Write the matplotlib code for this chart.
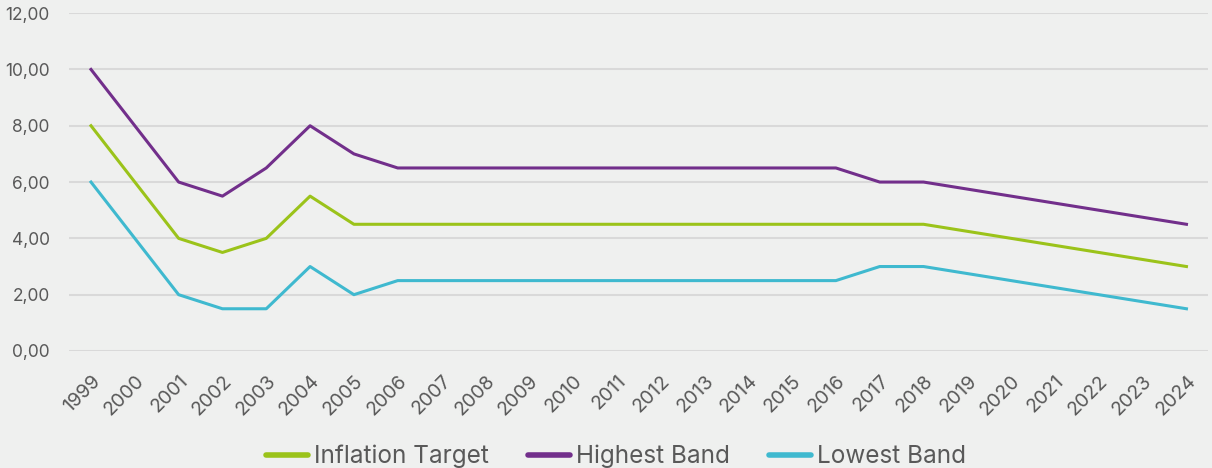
import matplotlib.pyplot as plt
from matplotlib.ticker import FuncFormatter

years = [str(y) for y in range(1999, 2025)]
inflation_target = [8.0, 6.0, 4.0, 3.5, 4.0, 5.5, 4.5, 4.5, 4.5, 4.5, 4.5, 4.5, 4.5,
                    4.5, 4.5, 4.5, 4.5, 4.5, 4.5, 4.5, 4.25, 4.0, 3.75, 3.5, 3.25, 3.0]
highest_band = [10.0, 8.0, 6.0, 5.5, 6.5, 8.0, 7.0, 6.5, 6.5, 6.5, 6.5, 6.5, 6.5,
                6.5, 6.5, 6.5, 6.5, 6.5, 6.0, 6.0, 5.75, 5.5, 5.25, 5.0, 4.75, 4.5]
lowest_band = [6.0, 4.0, 2.0, 1.5, 1.5, 3.0, 2.0, 2.5, 2.5, 2.5, 2.5, 2.5, 2.5,
               2.5, 2.5, 2.5, 2.5, 2.5, 3.0, 3.0, 2.75, 2.5, 2.25, 2.0, 1.75, 1.5]

bg = '#eff0ef'
txt = '#595959'
plt.rcParams['font.family'] = ['Inter', 'DejaVu Sans']

fig = plt.figure(figsize=(12.12, 4.68), dpi=100, facecolor=bg)
ax = fig.add_axes([0.057, 0.25, 0.94, 0.722])
ax.set_facecolor(bg)

x = range(len(years))
ax.plot(x, inflation_target, color='#9bc31a', lw=2.2, label='Inflation Target')
ax.plot(x, highest_band, color='#722f8b', lw=2.2, label='Highest Band')
ax.plot(x, lowest_band, color='#3fb9cf', lw=2.2, label='Lowest Band')

ax.set_xlim(-0.5, len(years) - 0.5)
ax.set_ylim(0, 12)
ax.set_yticks(range(0, 13, 2))
ax.yaxis.set_major_formatter(FuncFormatter(lambda v, p: f'{v:.2f}'.replace('.', ',')))
ax.set_xticks(list(x))
ax.set_xticklabels(years, rotation=45, ha='right', rotation_mode='anchor')
ax.tick_params(axis='both', length=0, colors=txt)
ax.tick_params(axis='x', pad=15, labelsize=14)
ax.tick_params(axis='y', pad=14, labelsize=12.5)
ax.grid(axis='y', color='#d9d9d9', lw=1.5)
ax.set_axisbelow(True)
for s in ax.spines.values():
    s.set_visible(False)

leg = ax.legend(loc='upper center', bbox_to_anchor=(0.48, -0.212), ncol=3, frameon=False,
                fontsize=17.5, handlelength=1.73, columnspacing=1.6, handletextpad=0.25)
for line in leg.get_lines():
    line.set_linewidth(4)
    line.set_solid_capstyle('round')
for t in leg.get_texts():
    t.set_color(txt)

fig.savefig('out.png', dpi=100, facecolor=bg)
